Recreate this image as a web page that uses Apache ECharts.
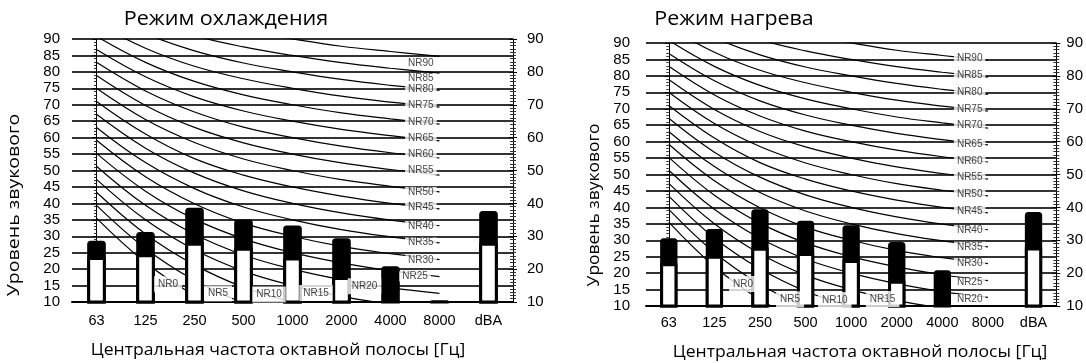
<!DOCTYPE html>
<html><head><meta charset="utf-8">
<script src="https://cdn.jsdelivr.net/npm/echarts@6/dist/echarts.min.js"></script>
<style>html,body{margin:0;padding:0;background:#fff}#c{width:1086px;height:363px}</style>
</head><body><div id="c"></div>
<script>
// ---------- DATA ----------
const categories = ['63', '125', '250', '500', '1000', '2000', '4000', '8000', 'dBA'];
const yTicksLeft = [10, 15, 20, 25, 30, 35, 40, 45, 50, 55, 60, 65, 70, 75, 80, 85, 90];
const yTicksRight = [10, 20, 30, 40, 50, 60, 70, 80, 90];

const coolTotal = [28.6, 31.3, 38.7, 35.1, 33.3, 29.4, 20.9, 10.5, 37.7];
const coolInner = [23.7, 24.5, 28.0, 26.5, 23.5, 17.6, null, null, 28.0];
const heatTotal = [30.6, 33.4, 39.4, 35.9, 34.6, 29.5, 20.9, 10.4, 38.6];
const heatInner = [23.0, 25.3, 27.7, 26.1, 24.0, 17.7, null, null, 27.8];

const nrLevels = [0, 5, 10, 15, 20, 25, 30, 35, 40, 45, 50, 55, 60, 65, 70, 75, 80, 85, 90];
// NR curve levels at 63,125,250,500,1000,2000,4000,8000 Hz
const nr0  = [35.5, 22.0, 12.0, 4.8, 0.0, -3.5, -6.1, -8.0];
const nr5  = [39.4, 26.3, 16.6, 9.7, 5.0, 1.6, -1.0, -2.8];
const nr10 = [43.4, 30.7, 21.3, 14.5, 10.0, 6.6, 4.2, 2.3];
const nr15 = [47.3, 35.0, 25.9, 19.4, 15.0, 11.7, 9.3, 7.4];
const nr20 = [51.3, 39.4, 30.6, 24.3, 20.0, 16.8, 14.4, 12.6];
const nr25 = [55.2, 43.7, 35.2, 29.2, 25.0, 21.9, 19.5, 17.7];
const nr30 = [59.2, 48.1, 39.9, 34.0, 30.0, 26.9, 24.7, 22.9];
const nr35 = [63.1, 52.4, 44.5, 38.9, 35.0, 32.0, 29.8, 28.0];
const nr40 = [67.1, 56.8, 49.2, 43.8, 40.0, 37.1, 34.9, 33.2];
const nr45 = [71.0, 61.1, 53.6, 48.6, 45.0, 42.2, 40.0, 38.3];
const nr50 = [75.0, 65.5, 58.5, 53.5, 50.0, 47.2, 45.2, 43.5];
const nr55 = [78.9, 69.8, 63.1, 58.4, 55.0, 52.3, 50.3, 48.6];
const nr60 = [82.9, 74.2, 67.8, 63.2, 60.0, 57.4, 55.4, 53.8];
const nr65 = [86.8, 78.5, 72.4, 68.1, 65.0, 62.5, 60.6, 59.0];
const nr70 = [90.8, 82.9, 77.1, 73.0, 70.0, 67.5, 65.7, 64.1];
const nr75 = [94.7, 87.2, 81.7, 77.9, 75.0, 72.6, 70.8, 69.3];
const nr80 = [98.7, 91.6, 86.4, 82.7, 80.0, 77.7, 75.9, 74.4];
const nr85 = [102.6, 95.9, 91.0, 87.6, 85.0, 82.8, 81.1, 79.6];
const nr90 = [106.6, 100.3, 95.7, 92.5, 90.0, 87.8, 86.2, 84.7];
const nrCurves = [nr0, nr5, nr10, nr15, nr20, nr25, nr30, nr35, nr40, nr45, nr50, nr55, nr60, nr65, nr70, nr75, nr80, nr85, nr90];

// NR label anchor positions (category index, level) per chart
const coolLabelX = [1.46, 2.48, 3.52, 4.48, 5.47, 6.5, 6.62, 6.62, 6.62, 6.62, 6.62, 6.62, 6.62, 6.62, 6.62, 6.62, 6.62, 6.62, 6.62];
const coolLabelY = [15.4, 12.6, 12.3, 12.7, 14.8, 17.8, 22.7, 28.1, 33.1, 38.8, 43.5, 50.1, 55.0, 59.8, 64.7, 69.9, 74.7, 78.0, 82.6];
const heatLabelX = [1.63, 2.66, 3.64, 4.69, 6.6, 6.6, 6.6, 6.6, 6.6, 6.6, 6.6, 6.6, 6.6, 6.6, 6.6, 6.6, 6.6, 6.6, 6.6];
const heatLabelY = [16.7, 12.0, 11.8, 12.1, 12.1, 17.1, 23.0, 28.0, 33.1, 38.9, 44.0, 49.1, 54.1, 59.2, 65.0, 70.0, 75.0, 80.2, 85.3];

const titles = ['Режим охлаждения', 'Режим нагрева'];
const xName = 'Центральная частота октавной полосы [Гц]';
const yName = 'Уровень звукового';

// ---------- CHART ----------
const chart = echarts.init(document.getElementById('c'), null, {renderer: 'canvas'});
const FONT = 'Liberation Sans';
const grids = [
  {left: 72, top: 39, width: 441, height: 263},
  {left: 646, top: 43, width: 411, height: 263}
];
const xAxes = [], yAxes = [], series = [];

function panel(g, totals, inners, lx, ly, catMargin, leftMargin, rightMargin) {
  const cx = xAxes.length;
  xAxes.push({
    type: 'category', gridIndex: g, position: 'bottom', data: categories,
    axisLine: {show: true, lineStyle: {color: '#000', width: 2}},
    axisTick: {show: false},
    axisLabel: {color: '#000', fontSize: 14.5, fontFamily: FONT, margin: catMargin, interval: 0},
    splitLine: {show: false}
  });
  const vx = xAxes.length;
  xAxes.push({type: 'value', gridIndex: g, position: 'top', min: -0.5, max: 8.5, show: false});
  const ly0 = yAxes.length;
  yAxes.push({
    type: 'value', gridIndex: g, position: 'left', min: yTicksLeft[0], max: yTicksLeft[yTicksLeft.length - 1], interval: 5,
    axisLine: {show: true, lineStyle: {color: '#000', width: 1}},
    axisTick: {show: true, length: 4, lineStyle: {color: '#000'}},
    minorTick: {show: true, splitNumber: 5, length: 2.5, lineStyle: {color: '#333'}},
    axisLabel: {color: '#000', fontSize: 15, fontFamily: FONT, margin: leftMargin},
    splitLine: {show: true, lineStyle: {color: '#333', width: 2}}
  });
  yAxes.push({
    type: 'value', gridIndex: g, position: 'right', min: yTicksRight[0], max: yTicksRight[yTicksRight.length - 1], interval: 10,
    axisLine: {show: true, lineStyle: {color: '#000', width: 1}},
    axisTick: {show: true, length: 4, lineStyle: {color: '#000'}},
    minorTick: {show: true, splitNumber: 10, length: 3, lineStyle: {color: '#333'}},
    axisLabel: {color: '#000', fontSize: 15, fontFamily: FONT, margin: rightMargin},
    splitLine: {show: false}
  });
  yAxes.push({
    type: 'value', gridIndex: g, position: 'right', min: yTicksRight[0], max: yTicksRight[yTicksRight.length - 1], interval: 10,
    axisLine: {show: false},
    axisTick: {show: true, inside: true, length: 4, lineStyle: {color: '#000'}},
    minorTick: {show: true, splitNumber: 10, length: 3, lineStyle: {color: '#333'}},
    axisLabel: {show: false},
    splitLine: {show: false}
  });
  // NR curves
  nrCurves.forEach((vals) => {
    series.push({
      type: 'line', xAxisIndex: vx, yAxisIndex: ly0, silent: true, z: 1,
      data: vals.map((v, k) => [k, v]), smooth: 0.4, symbol: 'none',
      lineStyle: {color: '#000', width: 1.2}, clip: true, animation: false
    });
  });
  // bars: black total with white inner part
  series.push({
    type: 'bar', xAxisIndex: cx, yAxisIndex: ly0, data: totals, barWidth: '38%', barGap: '-100%', z: 3,
    itemStyle: {color: '#000', borderColor: '#000', borderWidth: 3, borderRadius: [2, 2, 0, 0]}, animation: false, silent: true
  });
  series.push({
    type: 'bar', xAxisIndex: cx, yAxisIndex: ly0, data: inners, barWidth: '38%', barGap: '-100%', z: 3,
    itemStyle: {color: '#fff', borderColor: '#000', borderWidth: 3}, animation: false, silent: true
  });
  // NR labels
  series.push({
    type: 'scatter', xAxisIndex: vx, yAxisIndex: ly0, symbolSize: 0, z: 6, silent: true, animation: false,
    data: nrLevels.map((n, i) => ({
      value: [lx[i], ly[i]], name: 'NR' + n,
      label: {padding: (lx[i] < 6 ? [3, 4] : [0, 3])}
    })),
    label: {show: true, position: 'inside', formatter: '{b}', color: '#111', fontSize: 10, lineHeight: 10, fontFamily: FONT, backgroundColor: '#fff'}
  });
}

panel(0, coolTotal, coolInner, coolLabelX, coolLabelY, 11, 12, 14);
panel(1, heatTotal, heatInner, heatLabelX, heatLabelY, 9, 16, 10);

const TFONT = 'Open Sans';
function txt(x, y, text, size, sx, rot) {
  return {type: 'text', x: x, y: y, rotation: rot || 0, scaleX: sx,
    style: {x: 0, y: 0, text: text, fill: '#000', font: size + 'px "' + TFONT + '"', textAlign: 'center', textVerticalAlign: 'middle'}};
}
const graphic = [
  txt(226, 19, titles[0], 20, 1.08),
  txt(734, 19, titles[1], 20, 1.07),
  txt(278, 350, xName, 16, 1.1),
  txt(860, 352, xName, 16, 1.1),
  txt(14, 205, yName, 17, 1.15, Math.PI / 2),
  txt(594, 205, yName, 16, 1.09, Math.PI / 2)
];

chart.setOption({
  backgroundColor: '#fff',
  animation: false,
  grid: grids,
  xAxis: xAxes,
  yAxis: yAxes,
  series: series,
  graphic: graphic
});
</script></body></html>
